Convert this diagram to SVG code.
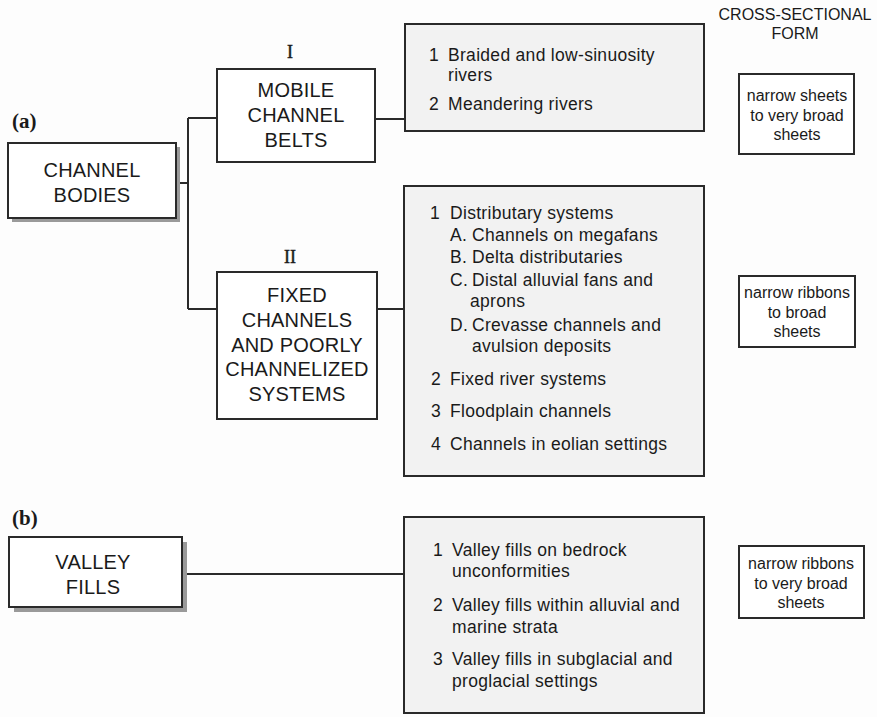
<svg xmlns="http://www.w3.org/2000/svg" width="877" height="717" viewBox="0 0 877 717">
<style>
.bg{fill:#fdfdfd}
.box{fill:#ffffff;stroke:#2a2a2a;stroke-width:2}
.list{fill:#f2f2f2;stroke:#2a2a2a;stroke-width:2}
.shadow{fill:#9a9a9a}
.conn{fill:none;stroke:#2a2a2a;stroke-width:2}
.cap{font-family:"Liberation Sans",Arial,sans-serif;font-size:20px;fill:#1a1a1a;text-anchor:middle;letter-spacing:0.2px}
.li{font-family:"Liberation Sans",Arial,sans-serif;font-size:17.5px;fill:#1a1a1a;letter-spacing:0.3px}
.sm{font-family:"Liberation Sans",Arial,sans-serif;font-size:16px;fill:#1a1a1a;text-anchor:middle}
.hd{font-family:"Liberation Sans",Arial,sans-serif;font-size:16px;fill:#1a1a1a;text-anchor:middle}
.rom{font-family:"Liberation Serif","Times New Roman",serif;font-size:18px;fill:#1a1a1a;text-anchor:middle;stroke:#1a1a1a;stroke-width:0.4}
.lab{font-family:"Liberation Serif","Times New Roman",serif;font-size:21px;font-weight:bold;fill:#1a1a1a}
</style>
<rect class="bg" x="0" y="0" width="877" height="717"/>

<g id="connectors">
  <path class="conn" d="M176,183 H188"/>
  <path class="conn" d="M188,118 V309"/>
  <path class="conn" d="M188,118 H217"/>
  <path class="conn" d="M188,309 H217"/>
  <path class="conn" d="M375,119 H405"/>
  <path class="conn" d="M377,309 H404"/>
  <path class="conn" d="M182,574 H404"/>
</g>

<g id="label-a"><text class="lab" x="12" y="128">(a)</text></g>
<g id="label-b"><text class="lab" x="12" y="525">(b)</text></g>

<g id="header">
  <text class="hd" x="795" y="20">CROSS-SECTIONAL</text>
  <text class="hd" x="795" y="39">FORM</text>
</g>

<g id="channel-bodies">
  <rect class="shadow" x="12" y="147" width="168" height="75"/>
  <rect class="box" x="8" y="143" width="168" height="75"/>
  <text class="cap" x="92" y="177">CHANNEL</text>
  <text class="cap" x="92" y="202">BODIES</text>
</g>

<g id="mobile-channel-belts">
  <text class="rom" x="290" y="58">I</text>
  <rect class="box" x="217" y="69" width="158" height="93"/>
  <text class="cap" x="296" y="97">MOBILE</text>
  <text class="cap" x="296" y="122">CHANNEL</text>
  <text class="cap" x="296" y="147">BELTS</text>
</g>

<g id="fixed-channels">
  <text class="rom" x="290" y="263">II</text>
  <rect class="box" x="217" y="272" width="160" height="147"/>
  <text class="cap" x="297" y="302">FIXED</text>
  <text class="cap" x="297" y="327">CHANNELS</text>
  <text class="cap" x="297" y="352">AND POORLY</text>
  <text class="cap" x="297" y="376">CHANNELIZED</text>
  <text class="cap" x="297" y="401">SYSTEMS</text>
</g>

<g id="list-mobile">
  <rect class="list" x="405" y="24" width="299" height="107"/>
  <text class="li" x="429" y="61">1</text>
  <text class="li" x="448" y="61">Braided and low-sinuosity</text>
  <text class="li" x="448" y="81">rivers</text>
  <text class="li" x="429" y="110">2</text>
  <text class="li" x="448" y="110">Meandering rivers</text>
</g>

<g id="list-fixed">
  <rect class="list" x="404" y="186" width="300" height="290"/>
  <text class="li" x="430" y="219">1</text>
  <text class="li" x="450" y="219">Distributary systems</text>
  <text class="li" x="450" y="241">A.</text>
  <text class="li" x="472" y="241">Channels on megafans</text>
  <text class="li" x="450" y="263">B.</text>
  <text class="li" x="472" y="263">Delta distributaries</text>
  <text class="li" x="450" y="286">C.</text>
  <text class="li" x="472" y="286">Distal alluvial fans and</text>
  <text class="li" x="470" y="307">aprons</text>
  <text class="li" x="450" y="331">D.</text>
  <text class="li" x="472" y="331">Crevasse channels and</text>
  <text class="li" x="472" y="352">avulsion deposits</text>
  <text class="li" x="431" y="385">2</text>
  <text class="li" x="450" y="385">Fixed river systems</text>
  <text class="li" x="431" y="417">3</text>
  <text class="li" x="450" y="417">Floodplain channels</text>
  <text class="li" x="431" y="450">4</text>
  <text class="li" x="450" y="450">Channels in eolian settings</text>
</g>

<g id="valley-fills">
  <rect class="shadow" x="14" y="542" width="173" height="70"/>
  <rect class="box" x="9" y="537" width="173" height="70"/>
  <text class="cap" x="93" y="569">VALLEY</text>
  <text class="cap" x="93" y="594">FILLS</text>
</g>

<g id="list-valley">
  <rect class="list" x="404" y="517" width="300" height="196"/>
  <text class="li" x="433" y="556">1</text>
  <text class="li" x="452" y="556">Valley fills on bedrock</text>
  <text class="li" x="452" y="577">unconformities</text>
  <text class="li" x="433" y="611">2</text>
  <text class="li" x="452" y="611">Valley fills within alluvial and</text>
  <text class="li" x="452" y="633">marine strata</text>
  <text class="li" x="433" y="665">3</text>
  <text class="li" x="452" y="665">Valley fills in subglacial and</text>
  <text class="li" x="452" y="687">proglacial settings</text>
</g>

<g id="form-mobile">
  <rect class="box" x="739" y="74" width="115" height="80"/>
  <text class="sm" x="797" y="101">narrow sheets</text>
  <text class="sm" x="797" y="121">to very broad</text>
  <text class="sm" x="797" y="140">sheets</text>
</g>

<g id="form-fixed">
  <rect class="box" x="739" y="276" width="116" height="71"/>
  <text class="sm" x="797" y="298">narrow ribbons</text>
  <text class="sm" x="797" y="318">to broad</text>
  <text class="sm" x="797" y="337">sheets</text>
</g>

<g id="form-valley">
  <rect class="box" x="739" y="546" width="125" height="72"/>
  <text class="sm" x="801" y="569">narrow ribbons</text>
  <text class="sm" x="801" y="589">to very broad</text>
  <text class="sm" x="801" y="608">sheets</text>
</g>
</svg>
